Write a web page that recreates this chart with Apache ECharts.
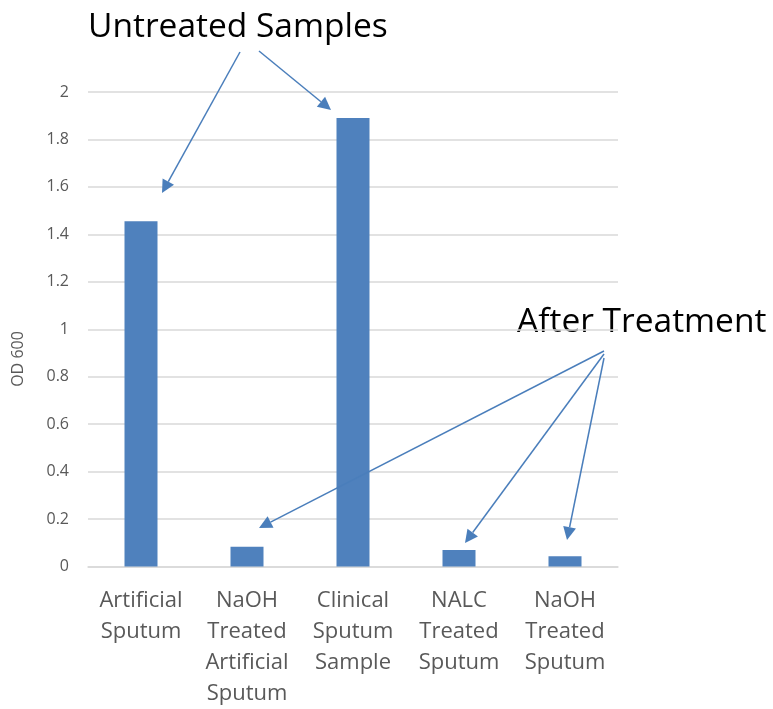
<!DOCTYPE html>
<html>
<head>
<meta charset="utf-8">
<script src="https://cdn.jsdelivr.net/npm/echarts@6/dist/echarts.min.js"></script>
<style>
  html, body { margin: 0; padding: 0; background: #fff; }
  #chart { width: 773px; height: 709px; }
</style>
</head>
<body>
<div id="chart"></div>
<script>
// Optical density of sputum samples before and after treatment
const categories = [
  'Artificial\nSputum',
  'NaOH\nTreated\nArtificial\nSputum',
  'Clinical\nSputum\nSample',
  'NALC\nTreated\nSputum',
  'NaOH\nTreated\nSputum'
];
const od600 = [1.455, 0.083, 1.89, 0.07, 0.043];
const yTicks = { min: 0, max: 2, step: 0.2 };

const FONT = '"Open Sans", Lato, sans-serif';
const BLUE = '#4f81bd';
const ARROW = '#4a7ebb';

// Straight connector with a filled triangular head at (x2, y2)
function arrow(x1, y1, x2, y2) {
  const dx = x2 - x1, dy = y2 - y1;
  const len = Math.hypot(dx, dy);
  const ux = dx / len, uy = dy / len;
  const headLen = 13, headHalf = 6.5;
  const bx = x2 - ux * headLen, by = y2 - uy * headLen;
  const px = -uy, py = ux;
  return [
    {
      type: 'line',
      shape: { x1: x1, y1: y1, x2: bx, y2: by },
      style: { stroke: ARROW, lineWidth: 1.5 },
      z: 100
    },
    {
      type: 'polygon',
      shape: {
        points: [
          [x2, y2],
          [bx + px * headHalf, by + py * headHalf],
          [bx - px * headHalf, by - py * headHalf]
        ]
      },
      style: { fill: ARROW },
      z: 100
    }
  ];
}

const chart = echarts.init(document.getElementById('chart'));
chart.setOption({
  animation: false,
  backgroundColor: '#fff',
  grid: { left: 88, right: 155, top: 92, bottom: 140, containLabel: false },
  xAxis: {
    type: 'category',
    data: categories,
    axisLine: { show: true, lineStyle: { color: '#d9d9d9', width: 1.5 } },
    axisTick: { show: false },
    axisLabel: {
      interval: 0,
      color: '#595959',
      fontFamily: FONT,
      fontSize: 22,
      lineHeight: 31,
      margin: 18.5,
      verticalAlign: 'top'
    }
  },
  yAxis: {
    type: 'value',
    min: yTicks.min,
    max: yTicks.max,
    interval: yTicks.step,
    axisLine: { show: false },
    axisTick: { show: false },
    splitLine: { lineStyle: { color: '#d9d9d9', width: 1.5 } },
    axisLabel: {
      color: '#595959',
      fontFamily: FONT,
      fontSize: 16,
      margin: 19
    }
  },
  series: [{
    type: 'bar',
    data: od600,
    barWidth: 33,
    itemStyle: { color: BLUE }
  }],
  graphic: [
    {
      type: 'text',
      x: 18, y: 359, rotation: Math.PI / 2,
      style: {
        text: 'OD 600', fill: '#595959', font: '16px ' + FONT,
        align: 'center', verticalAlign: 'middle'
      }
    },
    {
      type: 'text',
      x: 88, y: 27.5,
      style: {
        text: 'Untreated Samples', fill: '#000', font: '33.5px ' + FONT,
        align: 'left', verticalAlign: 'middle'
      }
    },
    {
      type: 'text',
      x: 517, y: 322,
      style: {
        text: 'After Treatment', fill: '#000', font: '33.5px ' + FONT,
        align: 'left', verticalAlign: 'middle'
      }
    },
    ...arrow(240, 52, 162, 193),
    ...arrow(259, 51, 331, 110),
    ...arrow(604, 351, 259, 528),
    ...arrow(604, 354, 465, 543),
    ...arrow(604, 358, 567, 540)
  ]
});
</script>
</body>
</html>
